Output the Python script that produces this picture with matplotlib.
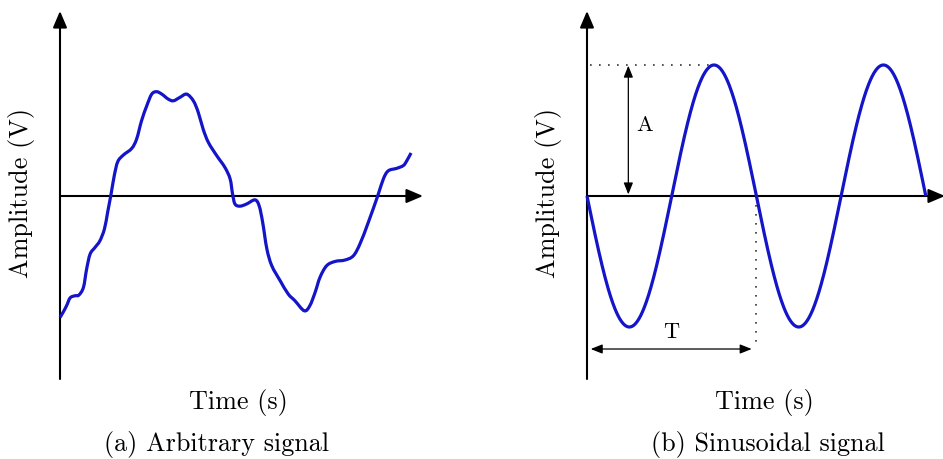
import numpy as np
import matplotlib
matplotlib.use('Agg')
import matplotlib.pyplot as plt
from matplotlib.path import Path
import matplotlib.patches as mpatches

plt.rcParams['font.family'] = 'serif'
plt.rcParams['font.serif'] = ['cmr10', 'DejaVu Serif']
plt.rcParams['axes.formatter.use_mathtext'] = True

# arbitrary signal (time, amplitude)
arb_t = [0.00, 0.09, 0.19, 0.29, 0.43, 0.54, 0.67, 0.76, 0.86, 1.00, 1.14, 1.27, 1.36,
         1.46, 1.55, 1.65, 1.81, 2.05, 2.19, 2.33, 2.48, 2.62, 2.76, 2.91, 3.09, 3.24,
         3.43, 3.62, 3.81, 3.95, 4.09, 4.24, 4.48, 4.71, 4.86, 4.93, 5.00, 5.14, 5.33,
         5.57, 5.69, 5.79, 5.91, 6.05, 6.29, 6.52, 6.71, 6.98, 7.14, 7.29, 7.43, 7.62,
         7.86, 8.14, 8.38, 8.57, 8.81, 9.08, 9.24, 9.38, 9.62, 9.81, 9.91, 10.03]
arb_v = [-3.47, -3.32, -3.13, -2.91, -2.85, -2.83, -2.61, -2.09, -1.66, -1.47, -1.28, -0.94, -0.47,
         0.06, 0.58, 0.98, 1.17, 1.36, 1.63, 2.15, 2.58, 2.91, 2.98, 2.91, 2.77, 2.72,
         2.82, 2.91, 2.72, 2.39, 1.91, 1.53, 1.15, 0.82, 0.49, 0.06, -0.23, -0.29, -0.23,
         -0.11, -0.28, -0.75, -1.51, -1.99, -2.42, -2.80, -2.99, -3.28, -3.13, -2.75, -2.32, -1.99,
         -1.87, -1.83, -1.71, -1.37, -0.75, 0.01, 0.49, 0.72, 0.79, 0.87, 1.01, 1.23]

# sinusoidal signal
amp = 1.0
period = 1.0
n_periods = 2

blue = '#1414c8'
W, H = 943, 460

fig = plt.figure(figsize=(W / 100, H / 100), dpi=100)


def px_axes(x0, x1, y0, y1):
    # axes placed by pixel box (y measured from top)
    return fig.add_axes([x0 / W, 1 - y1 / H, (x1 - x0) / W, (y1 - y0) / H])


def axis_arrow(ax, start, end):
    ax.annotate('', xy=end, xytext=start,
                arrowprops=dict(arrowstyle='-|>,head_length=0.4,head_width=0.17',
                                lw=1.5, color='black', shrinkA=0, shrinkB=0,
                                mutation_scale=25),
                annotation_clip=False)


def dim_arrow(ax, start, end):
    ax.annotate('', xy=end, xytext=start,
                arrowprops=dict(arrowstyle='<|-|>,head_length=0.5,head_width=0.2',
                                lw=0.9, color='black', shrinkA=0, shrinkB=0,
                                mutation_scale=14),
                annotation_clip=False)


def smooth_path(xs, ys):
    # smooth curve through the points (like tikz "plot[smooth]")
    p = np.column_stack([xs, ys])
    verts = [p[0]]
    codes = [Path.MOVETO]
    n = len(p)
    for i in range(n - 1):
        p0 = p[max(i - 1, 0)]
        p1, p2 = p[i], p[i + 1]
        p3 = p[min(i + 2, n - 1)]
        verts += [p1 + (p2 - p0) / 6, p2 - (p3 - p1) / 6, p2]
        codes += [Path.CURVE4] * 3
    return Path(verts, codes)


# (a) arbitrary signal: 35 px per unit, origin at pixel (60, 197)
ax1 = px_axes(40, 430, 5, 390)
s1 = 35.0
ax1.set_xlim((40 - 60) / s1, (430 - 60) / s1)
ax1.set_ylim((197 - 390) / s1, (197 - 5) / s1)
ax1.axis('off')
axis_arrow(ax1, (0, (197 - 380) / s1), (0, (197 - 12) / s1))
axis_arrow(ax1, (0, 0), ((423 - 60) / s1, 0))
ax1.add_patch(mpatches.PathPatch(smooth_path(arb_t, arb_v), fill=False,
                                 edgecolor=blue, lw=2.3, capstyle='butt',
                                 joinstyle='round', clip_on=False, zorder=3))

# (b) sinusoidal signal: origin at pixel (587, 197)
ax2 = px_axes(570, 943, 5, 390)
sx, sy = 169.4, 131.0
ax2.set_xlim((570 - 587) / sx, (943 - 587) / sx)
ax2.set_ylim((197 - 390) / sy, (197 - 5) / sy)
ax2.axis('off')
axis_arrow(ax2, (0, (197 - 380) / sy), (0, (197 - 12) / sy))
axis_arrow(ax2, (0, 0), ((945 - 587) / sx, 0))

t = np.linspace(0, n_periods * period, 600)
ax2.plot(t, -amp * np.sin(2 * np.pi * t / period), color=blue, lw=2.3,
         solid_capstyle='butt', clip_on=False, zorder=3)

dots = (0, (1, 4.4))
ax2.plot([0.02, 0.75 * period], [amp, amp], color='#333333', lw=1.2, ls=dots)
ax2.plot([period, period], [0, -1.168 * amp], color='#333333', lw=1.2, ls=dots)
dim_arrow(ax2, (0.244 * period, 0.012), (0.244 * period, 0.995 * amp))
dim_arrow(ax2, (0.022, -1.168 * amp), (0.972 * period, -1.168 * amp))
ax2.text(0.342 * period, 0.55 * amp, 'A', fontsize=16, ha='center', va='center')
ax2.text(0.5 * period, -1.03 * amp, 'T', fontsize=16, ha='center', va='center')

# labels and captions
fs = 18.8
fig.text(22 / W, 1 - 193 / H, 'Amplitude (V)', rotation=90, fontsize=fs,
         ha='center', va='center')
fig.text(548 / W, 1 - 193 / H, 'Amplitude (V)', rotation=90, fontsize=fs,
         ha='center', va='center')
fig.text(238 / W, 1 - 403 / H, 'Time (s)', fontsize=fs, ha='center', va='center')
fig.text(764 / W, 1 - 403 / H, 'Time (s)', fontsize=fs, ha='center', va='center')
fig.text(217 / W, 1 - 445 / H, '(a) Arbitrary signal', fontsize=fs,
         ha='center', va='center')
fig.text(768 / W, 1 - 445 / H, '(b) Sinusoidal signal', fontsize=fs,
         ha='center', va='center')

fig.savefig('out.png', dpi=100)
